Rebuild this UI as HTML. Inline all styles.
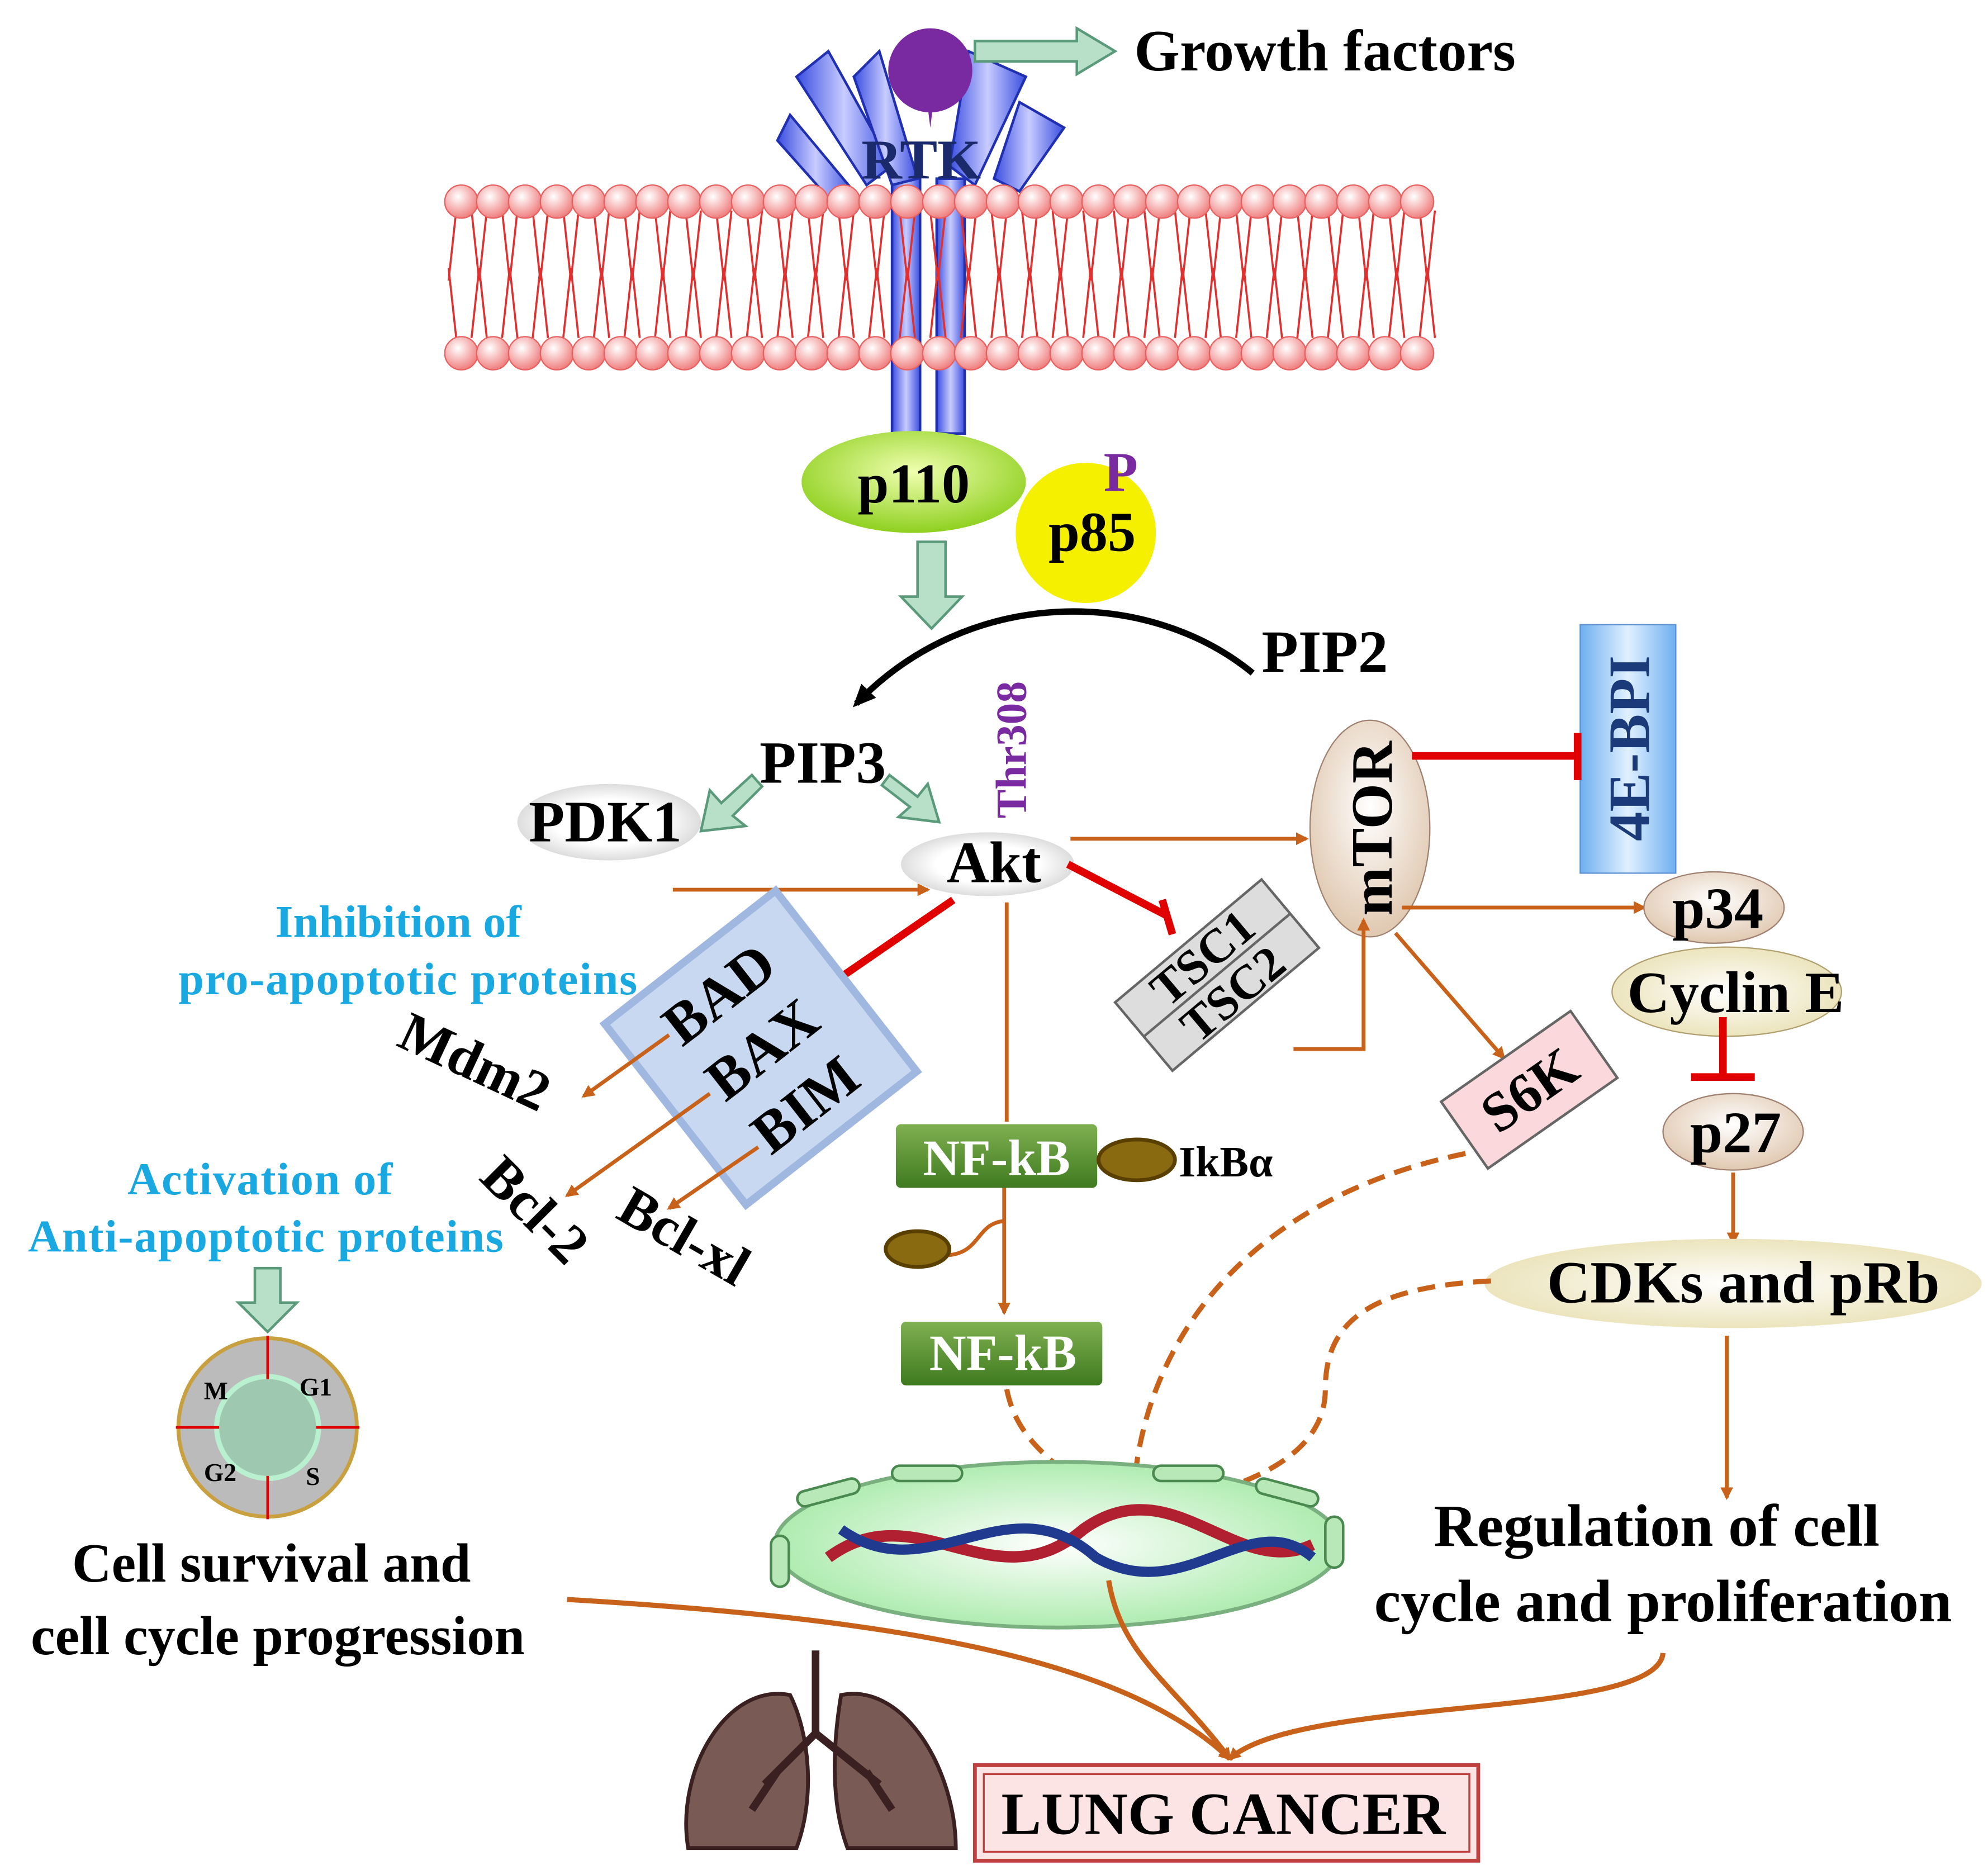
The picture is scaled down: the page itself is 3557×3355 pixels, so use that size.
<!DOCTYPE html>
<html><head><meta charset="utf-8">
<style>
html,body{margin:0;padding:0;background:#fff;}
svg{display:block;}
text{font-family:"Liberation Serif",serif;font-weight:bold;}
</style></head>
<body>
<svg width="3557" height="3355" viewBox="0 0 1560 1471" xmlns="http://www.w3.org/2000/svg">
<defs>
<radialGradient id="head" cx="40%" cy="35%" r="65%"><stop offset="0" stop-color="#fff"/><stop offset="1" stop-color="#f08080"/></radialGradient>
<linearGradient id="blue" x1="0" x2="1"><stop offset="0" stop-color="#3a4ee0"/><stop offset="0.5" stop-color="#c8ccff"/><stop offset="1" stop-color="#3a4ee0"/></linearGradient>
<radialGradient id="green" cx="50%" cy="40%" r="60%"><stop offset="0" stop-color="#f0ffb0"/><stop offset="1" stop-color="#8fd020"/></radialGradient>
<radialGradient id="beige" cx="50%" cy="40%" r="60%"><stop offset="0" stop-color="#fff"/><stop offset="1" stop-color="#e0c8b0"/></radialGradient>
<radialGradient id="cream" cx="50%" cy="50%" r="60%"><stop offset="0" stop-color="#fff"/><stop offset="1" stop-color="#e8dfb0"/></radialGradient>
<radialGradient id="white" cx="50%" cy="50%" r="60%"><stop offset="0.5" stop-color="#fff"/><stop offset="1" stop-color="#ccc"/></radialGradient>
<radialGradient id="nuc" cx="50%" cy="50%" r="60%"><stop offset="0" stop-color="#fff"/><stop offset="1" stop-color="#9fe8a0"/></radialGradient>
<linearGradient id="nfkb" x1="0" y1="0" x2="0" y2="1"><stop offset="0" stop-color="#7fb050"/><stop offset="1" stop-color="#3f7a20"/></linearGradient>
<linearGradient id="ebp" x1="0" x2="1"><stop offset="0" stop-color="#6fb0f0"/><stop offset="0.5" stop-color="#e0f0ff"/><stop offset="1" stop-color="#6fb0f0"/></linearGradient>
<marker id="ao" markerWidth="10" markerHeight="10" refX="8" refY="5" orient="auto" markerUnits="userSpaceOnUse"><path d="M0,0 L10,5 L0,10 z" fill="#c8621a"/></marker>
<marker id="ab" markerWidth="20" markerHeight="20" refX="14" refY="10" orient="auto" markerUnits="userSpaceOnUse"><path d="M0,2 L18,10 L0,18 z" fill="#000"/></marker>
</defs>

<!-- RTK -->
<g fill="url(#blue)" stroke="#2030b0" stroke-width="2">
<rect x="700" y="140" width="22" height="200"/>
<rect x="735" y="140" width="22" height="200"/>
<path d="M650,40 L700,130 L680,145 L625,60 z"/>
<path d="M620,90 L670,150 L650,155 L610,110 z"/>
<path d="M760,40 L805,60 L765,145 L745,130 z"/>
<path d="M800,80 L835,100 L800,150 L780,140 z"/>
<path d="M690,40 L720,140 L700,145 L670,60 z"/>
</g>
<circle cx="730" cy="55" r="33" fill="#7a2aa0"/>
<path d="M725,60 L735,60 L730,100 z" fill="#7a2aa0"/>
<text x="676" y="140" font-size="44" fill="#1a2a6a">RTK</text>
<path d="M765,32 L845,32 L845,22 L875,40 L845,58 L845,48 L765,48 z" fill="#b8e0c8" stroke="#5a9a7a" stroke-width="2"/>
<text x="890" y="55" font-size="46" fill="#000">Growth factors</text>

<!-- membrane tails -->
<g stroke="#e03030" stroke-width="1.6" fill="none">
<path d="M358,165 l-6,55 M370,165 l6,55 M382,165 l-6,55 M394,165 l6,55 M406,165 l-6,55 M418,165 l6,55 M430,165 l-6,55 M442,165 l6,55 M454,165 l-6,55 M466,165 l6,55 M478,165 l-6,55 M490,165 l6,55 M502,165 l-6,55 M514,165 l6,55 M526,165 l-6,55 M538,165 l6,55 M550,165 l-6,55 M562,165 l6,55 M574,165 l-6,55 M586,165 l6,55 M598,165 l-6,55 M610,165 l6,55 M622,165 l-6,55 M634,165 l6,55 M646,165 l-6,55 M658,165 l6,55 M670,165 l-6,55 M682,165 l6,55 M694,165 l-6,55 M706,165 l6,55 M718,165 l-6,55 M730,165 l6,55 M742,165 l-6,55 M754,165 l6,55 M766,165 l-6,55 M778,165 l6,55 M790,165 l-6,55 M802,165 l6,55 M814,165 l-6,55 M826,165 l6,55 M838,165 l-6,55 M850,165 l6,55 M862,165 l-6,55 M874,165 l6,55 M886,165 l-6,55 M898,165 l6,55 M910,165 l-6,55 M922,165 l6,55 M934,165 l-6,55 M946,165 l6,55 M958,165 l-6,55 M970,165 l6,55 M982,165 l-6,55 M994,165 l6,55 M1006,165 l-6,55 M1018,165 l6,55 M1030,165 l-6,55 M1042,165 l6,55 M1054,165 l-6,55 M1066,165 l6,55 M1078,165 l-6,55 M1090,165 l6,55 M1102,165 l-6,55 M1114,165 l6,55 M1126,165 l-6,55"/>
<path d="M358,265 l-6,-55 M370,265 l6,-55 M382,265 l-6,-55 M394,265 l6,-55 M406,265 l-6,-55 M418,265 l6,-55 M430,265 l-6,-55 M442,265 l6,-55 M454,265 l-6,-55 M466,265 l6,-55 M478,265 l-6,-55 M490,265 l6,-55 M502,265 l-6,-55 M514,265 l6,-55 M526,265 l-6,-55 M538,265 l6,-55 M550,265 l-6,-55 M562,265 l6,-55 M574,265 l-6,-55 M586,265 l6,-55 M598,265 l-6,-55 M610,265 l6,-55 M622,265 l-6,-55 M634,265 l6,-55 M646,265 l-6,-55 M658,265 l6,-55 M670,265 l-6,-55 M682,265 l6,-55 M694,265 l-6,-55 M706,265 l6,-55 M718,265 l-6,-55 M730,265 l6,-55 M742,265 l-6,-55 M754,265 l6,-55 M766,265 l-6,-55 M778,265 l6,-55 M790,265 l-6,-55 M802,265 l6,-55 M814,265 l-6,-55 M826,265 l6,-55 M838,265 l-6,-55 M850,265 l6,-55 M862,265 l-6,-55 M874,265 l6,-55 M886,265 l-6,-55 M898,265 l6,-55 M910,265 l-6,-55 M922,265 l6,-55 M934,265 l-6,-55 M946,265 l6,-55 M958,265 l-6,-55 M970,265 l6,-55 M982,265 l-6,-55 M994,265 l6,-55 M1006,265 l-6,-55 M1018,265 l6,-55 M1030,265 l-6,-55 M1042,265 l6,-55 M1054,265 l-6,-55 M1066,265 l6,-55 M1078,265 l-6,-55 M1090,265 l6,-55 M1102,265 l-6,-55 M1114,265 l6,-55 M1126,265 l-6,-55"/>
</g>
<g fill="url(#head)" stroke="#e86060" stroke-width="1">
<circle cx="362" cy="158" r="13"/><circle cx="387" cy="158" r="13"/><circle cx="412" cy="158" r="13"/><circle cx="437" cy="158" r="13"/><circle cx="462" cy="158" r="13"/><circle cx="487" cy="158" r="13"/><circle cx="512" cy="158" r="13"/><circle cx="537" cy="158" r="13"/><circle cx="562" cy="158" r="13"/><circle cx="587" cy="158" r="13"/><circle cx="612" cy="158" r="13"/><circle cx="637" cy="158" r="13"/><circle cx="662" cy="158" r="13"/><circle cx="687" cy="158" r="13"/><circle cx="712" cy="158" r="13"/><circle cx="737" cy="158" r="13"/><circle cx="762" cy="158" r="13"/><circle cx="787" cy="158" r="13"/><circle cx="812" cy="158" r="13"/><circle cx="837" cy="158" r="13"/><circle cx="862" cy="158" r="13"/><circle cx="887" cy="158" r="13"/><circle cx="912" cy="158" r="13"/><circle cx="937" cy="158" r="13"/><circle cx="962" cy="158" r="13"/><circle cx="987" cy="158" r="13"/><circle cx="1012" cy="158" r="13"/><circle cx="1037" cy="158" r="13"/><circle cx="1062" cy="158" r="13"/><circle cx="1087" cy="158" r="13"/><circle cx="1112" cy="158" r="13"/>
<circle cx="362" cy="277" r="13"/><circle cx="387" cy="277" r="13"/><circle cx="412" cy="277" r="13"/><circle cx="437" cy="277" r="13"/><circle cx="462" cy="277" r="13"/><circle cx="487" cy="277" r="13"/><circle cx="512" cy="277" r="13"/><circle cx="537" cy="277" r="13"/><circle cx="562" cy="277" r="13"/><circle cx="587" cy="277" r="13"/><circle cx="612" cy="277" r="13"/><circle cx="637" cy="277" r="13"/><circle cx="662" cy="277" r="13"/><circle cx="687" cy="277" r="13"/><circle cx="712" cy="277" r="13"/><circle cx="737" cy="277" r="13"/><circle cx="762" cy="277" r="13"/><circle cx="787" cy="277" r="13"/><circle cx="812" cy="277" r="13"/><circle cx="837" cy="277" r="13"/><circle cx="862" cy="277" r="13"/><circle cx="887" cy="277" r="13"/><circle cx="912" cy="277" r="13"/><circle cx="937" cy="277" r="13"/><circle cx="962" cy="277" r="13"/><circle cx="987" cy="277" r="13"/><circle cx="1012" cy="277" r="13"/><circle cx="1037" cy="277" r="13"/><circle cx="1062" cy="277" r="13"/><circle cx="1087" cy="277" r="13"/><circle cx="1112" cy="277" r="13"/>
</g>

<!-- p110 / p85 -->
<ellipse cx="717" cy="378" rx="88" ry="40" fill="url(#green)"/>
<text x="717" y="394" font-size="44" text-anchor="middle">p110</text>
<circle cx="852" cy="418" r="55" fill="#f5f000"/>
<text x="857" y="432" font-size="44" text-anchor="middle">p85</text>
<text x="866" y="385" font-size="44" fill="#7a2aa0">P</text>
<path d="M720,425 L742,425 L742,468 L755,468 L731,493 L707,468 L720,468 z" fill="#b8e0c8" stroke="#5a9a7a" stroke-width="2"/>

<!-- PIP2 curve -->
<path d="M983,528 C900,460 760,460 672,552" fill="none" stroke="#000" stroke-width="5" marker-end="url(#ab)"/>
<text x="990" y="527" font-size="47">PIP2</text>
<text x="596" y="614" font-size="47">PIP3</text>
<path d="M598,617 L575,640 L585,648 L550,652 L557,620 L566,630 L590,608 z" fill="#b8e0c8" stroke="#5a9a7a" stroke-width="2"/>
<path d="M698,608 L720,625 L728,615 L737,645 L705,641 L714,633 L692,616 z" fill="#b8e0c8" stroke="#5a9a7a" stroke-width="2"/>
<ellipse cx="478" cy="645" rx="72" ry="30" fill="url(#white)"/>
<text x="475" y="660" font-size="46" text-anchor="middle">PDK1</text>
<ellipse cx="775" cy="678" rx="68" ry="25" fill="url(#white)"/>
<text x="780" y="692" font-size="46" text-anchor="middle">Akt</text>
<text transform="translate(805,642) rotate(-90)" font-size="34" fill="#7a2aa0">Thr308</text>
<path d="M528,698 L728,698" stroke="#c8621a" stroke-width="3" marker-end="url(#ao)"/>

<!-- mTOR -->
<ellipse cx="1075" cy="650" rx="47" ry="85" fill="url(#beige)" stroke="#a08070" stroke-width="1"/>
<text transform="translate(1092,650) rotate(-90)" font-size="46" text-anchor="middle">mTOR</text>
<path d="M840,658 L1025,658" stroke="#c8621a" stroke-width="3" marker-end="url(#ao)"/>
<rect x="1240" y="490" width="75" height="195" fill="url(#ebp)" stroke="#5a90d0"/>
<text transform="translate(1294,587) rotate(-90)" font-size="46" fill="#1a3a7a" text-anchor="middle">4E-BPI</text>
<path d="M1108,593 L1238,593 M1238,575 L1238,612" stroke="#e00000" stroke-width="6"/>
<path d="M1100,712 L1290,712" stroke="#c8621a" stroke-width="3" marker-end="url(#ao)"/>

<!-- p34 etc -->
<ellipse cx="1345" cy="712" rx="55" ry="28" fill="url(#beige)" stroke="#a08070"/>
<text x="1348" y="728" font-size="46" text-anchor="middle">p34</text>
<ellipse cx="1355" cy="778" rx="90" ry="35" fill="url(#cream)" stroke="#b0a070"/>
<text x="1362" y="794" font-size="46" text-anchor="middle">Cyclin E</text>
<path d="M1352,798 L1352,843 M1327,845 L1377,845" stroke="#e00000" stroke-width="6"/>
<ellipse cx="1360" cy="888" rx="55" ry="30" fill="url(#beige)" stroke="#a08070"/>
<text x="1362" y="904" font-size="46" text-anchor="middle">p27</text>
<path d="M1360,920 L1360,975" stroke="#c8621a" stroke-width="3" marker-end="url(#ao)"/>
<ellipse cx="1360" cy="1007" rx="195" ry="35" fill="url(#cream)"/>
<text x="1368" y="1022" font-size="47" text-anchor="middle">CDKs and pRb</text>
<path d="M1355,1048 L1355,1175" stroke="#c8621a" stroke-width="3" marker-end="url(#ao)"/>
<text x="1300" y="1213" font-size="47" text-anchor="middle">Regulation of cell</text>
<text x="1305" y="1272" font-size="47" text-anchor="middle">cycle and proliferation</text>

<!-- TSC -->
<path d="M838,678 L915,718 M912,706 L920,733" stroke="#e00000" stroke-width="6"/>
<g transform="translate(955,765) rotate(-40)">
<rect x="-75" y="-35" width="150" height="70" fill="#ddd" stroke="#666" stroke-width="2"/>
<line x1="-75" y1="0" x2="75" y2="0" stroke="#666" stroke-width="2"/>
<text x="0" y="-5" font-size="38" text-anchor="middle">TSC1</text>
<text x="0" y="32" font-size="38" text-anchor="middle">TSC2</text>
</g>
<path d="M1015,823 L1070,823 L1070,722" fill="none" stroke="#c8621a" stroke-width="3" marker-end="url(#ao)"/>

<!-- S6K -->
<path d="M1095,732 L1180,830" stroke="#c8621a" stroke-width="3" marker-end="url(#ao)"/>
<g transform="translate(1200,855) rotate(-35)">
<rect x="-62" y="-32" width="124" height="64" fill="#fad8dc" stroke="#666" stroke-width="2"/>
<text x="0" y="15" font-size="44" text-anchor="middle">S6K</text>
</g>

<!-- BAD box -->
<path d="M748,706 L655,770 M645,756 L665,782" stroke="#e00000" stroke-width="6"/>
<g transform="translate(597,822) rotate(-38)">
<rect x="-85" y="-90" width="170" height="180" fill="#c8d8f0" stroke="#a0b8e0" stroke-width="6"/>
<text x="0" y="-38" font-size="46" text-anchor="middle">BAD</text>
<text x="0" y="17" font-size="46" text-anchor="middle">BAX</text>
<text x="0" y="72" font-size="46" text-anchor="middle">BIM</text>
</g>
<text x="216" y="735" font-size="36" fill="#1aa8e0">Inhibition  of</text>
<text x="140" y="780" font-size="36" fill="#1aa8e0" textLength="360">pro-apoptotic proteins</text>
<path d="M525,812 L458,860" stroke="#c8621a" stroke-width="3" marker-end="url(#ao)"/>
<path d="M557,858 L445,938" stroke="#c8621a" stroke-width="3" marker-end="url(#ao)"/>
<path d="M595,900 L525,948" stroke="#c8621a" stroke-width="3" marker-end="url(#ao)"/>
<text transform="translate(310,820) rotate(25)" font-size="44">Mdm2</text>
<text transform="translate(375,925) rotate(45)" font-size="44">Bcl-2</text>
<text transform="translate(482,955) rotate(30)" font-size="44">Bcl-xl</text>
<text x="100" y="937" font-size="36" fill="#1aa8e0" textLength="208">Activation of</text>
<text x="22" y="982" font-size="36" fill="#1aa8e0" textLength="373">Anti-apoptotic proteins</text>
<path d="M200,995 L220,995 L220,1022 L233,1022 L210,1045 L187,1022 L200,1022 z" fill="#b8e0c8" stroke="#5a9a7a" stroke-width="2"/>

<!-- cell cycle -->
<circle cx="210" cy="1120" r="70" fill="#bbb" stroke="#c8a040" stroke-width="3"/>
<circle cx="210" cy="1120" r="40" fill="#9fc8b0" stroke="#b8f0d0" stroke-width="4"/>
<path d="M210,1048 L210,1082 M210,1158 L210,1192 M138,1120 L172,1120 M248,1120 L282,1120" stroke="#e00000" stroke-width="2"/>
<text x="160" y="1098" font-size="20">M</text><text x="235" y="1095" font-size="20">G1</text>
<text x="160" y="1162" font-size="20">G2</text><text x="240" y="1165" font-size="20">S</text>
<text x="213" y="1241" font-size="43" text-anchor="middle">Cell survival  and</text>
<text x="218" y="1298" font-size="43" text-anchor="middle">cell cycle progression</text>

<!-- NF-kB -->
<path d="M790,708 L790,880" stroke="#c8621a" stroke-width="3"/>
<rect x="703" y="882" width="158" height="50" rx="4" fill="url(#nfkb)"/>
<text x="782" y="922" font-size="40" fill="#fff" text-anchor="middle">NF-kB</text>
<ellipse cx="892" cy="910" rx="30" ry="16" fill="#8a6a10" stroke="#5a4000" stroke-width="3"/>
<text x="925" y="923" font-size="34">IkBα</text>
<path d="M788,932 L788,1030" stroke="#c8621a" stroke-width="3" marker-end="url(#ao)"/>
<path d="M788,958 C765,960 770,985 740,985" fill="none" stroke="#c8621a" stroke-width="3"/>
<ellipse cx="720" cy="980" rx="25" ry="14" fill="#8a6a10" stroke="#5a4000" stroke-width="3"/>
<rect x="707" y="1037" width="158" height="50" rx="4" fill="url(#nfkb)"/>
<text x="787" y="1075" font-size="40" fill="#fff" text-anchor="middle">NF-kB</text>

<!-- dashed -->
<g fill="none" stroke="#c8621a" stroke-width="4" stroke-dasharray="14,8">
<path d="M790,1090 C800,1140 840,1150 870,1190" marker-end="url(#ao)"/>
<path d="M1150,905 C980,940 900,1050 890,1165" marker-end="url(#ao)"/>
<path d="M1170,1005 C1070,1010 1040,1040 1040,1090 C1040,1150 960,1170 915,1180" marker-end="url(#ao)"/>
</g>

<!-- nucleus -->
<ellipse cx="830" cy="1212" rx="222" ry="65" fill="url(#nuc)" stroke="#7ab080" stroke-width="3"/>
<g fill="#b8e8b8" stroke="#4a8a50" stroke-width="2">
<rect x="625" y="1165" width="50" height="12" rx="6" transform="rotate(-15 650 1171)"/>
<rect x="985" y="1165" width="50" height="12" rx="6" transform="rotate(15 1010 1171)"/>
<rect x="700" y="1150" width="55" height="12" rx="6"/>
<rect x="905" y="1150" width="55" height="12" rx="6"/>
<rect x="605" y="1205" width="14" height="40" rx="7"/>
<rect x="1040" y="1190" width="14" height="40" rx="7"/>
</g>
<path d="M650,1222 C720,1170 780,1260 850,1200 C920,1150 970,1240 1030,1212" fill="none" stroke="#b02030" stroke-width="9"/>
<path d="M660,1200 C730,1250 790,1160 860,1222 C930,1262 980,1180 1030,1222" fill="none" stroke="#203a90" stroke-width="8"/>

<!-- to lung cancer -->
<g fill="none" stroke="#c8621a" stroke-width="4">
<path d="M870,1240 C880,1300 920,1320 965,1380" marker-end="url(#ao)"/>
<path d="M445,1255 C700,1270 880,1300 965,1380" marker-end="url(#ao)"/>
<path d="M1305,1297 C1300,1350 1020,1330 965,1380" marker-end="url(#ao)"/>
</g>

<!-- lungs -->
<g fill="#7a5a55" stroke="#3a2020" stroke-width="3">
<path d="M620,1330 C570,1320 530,1390 540,1450 L625,1450 C640,1410 635,1360 620,1330 z"/>
<path d="M660,1330 C710,1320 750,1390 750,1450 L665,1450 C650,1410 655,1360 660,1330 z"/>
</g>
<path d="M640,1295 L640,1360 M640,1360 L600,1400 M640,1360 L690,1400 M610,1390 L590,1420 M680,1390 L700,1420" stroke="#3a2020" stroke-width="6" fill="none"/>
<rect x="765" y="1385" width="395" height="75" fill="#fde4e4" stroke="#c04040" stroke-width="3"/>
<rect x="772" y="1392" width="381" height="61" fill="none" stroke="#c04040" stroke-width="1.5"/>
<text x="960" y="1439" font-size="47" text-anchor="middle">LUNG CANCER</text>
</svg>
</body></html>
